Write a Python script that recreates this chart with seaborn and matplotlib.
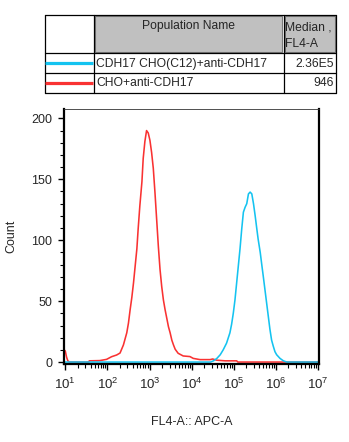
import numpy as np
import pandas as pd
import matplotlib
matplotlib.use("Agg")
import matplotlib.pyplot as plt
from matplotlib.ticker import FixedLocator, FuncFormatter, NullFormatter, MultipleLocator
from matplotlib.patches import Rectangle
import seaborn as sns

# ---------------- data ----------------
pop_blue = "CDH17 CHO(C12)+anti-CDH17"
pop_red = "CHO+anti-CDH17"
medians = {pop_blue: "2.36E5", pop_red: "946"}
header_pop = "Population Name"
header_med = ["Median ,", "FL4-A"]
decades = [1, 2, 3, 4, 5, 6, 7]

# log10 of FL4-A intensity and counts
red_log = [0.975, 1.0, 1.03, 1.06, 1.10, 1.55, 1.57, 1.82, 1.98, 2.10,
           2.22, 2.30, 2.38, 2.46, 2.50, 2.54, 2.58, 2.62, 2.66, 2.70,
           2.73, 2.77, 2.82, 2.85, 2.89, 2.93, 2.97, 3.01, 3.05, 3.09,
           3.13, 3.17, 3.21, 3.25, 3.29, 3.33, 3.37, 3.41, 3.45, 3.49,
           3.53, 3.57, 3.61, 3.68, 3.80, 3.96, 4.04, 4.20, 4.44, 4.50,
           4.60, 4.80, 5.07, 5.10, 7.02]
red_count = [10, 9, 4, 1, 0, 0, 1, 1.2, 2.2, 4.4,
             5.8, 7.4, 14, 24, 32, 43, 53, 65, 79, 93,
             109, 128, 148, 167, 181, 190, 188, 182, 172, 159,
             139, 117, 95, 76, 62, 51, 43, 36, 29, 24,
             18, 14, 10.5, 7.2, 5, 4.5, 3, 2, 2, 2.5,
             1.5, 1, 1, 0, 0]

blue_log = [0.975, 4.45, 4.52, 4.60, 4.68, 4.75, 4.83, 4.91, 4.95, 4.99,
            5.03, 5.07, 5.11, 5.15, 5.19, 5.23, 5.27, 5.31, 5.35, 5.39,
            5.43, 5.47, 5.51, 5.55, 5.58, 5.63, 5.67, 5.70, 5.74, 5.78,
            5.82, 5.86, 5.90, 5.94, 5.98, 6.02, 6.10, 6.18, 6.26, 7.02]
blue_count = [0, 0, 1, 3, 6, 10, 15.5, 24, 31, 40,
              51, 65, 79, 93, 109, 123, 127, 130, 138, 139.5,
              138, 130, 120, 109, 101, 90, 79, 71, 60, 49,
              38, 27, 18, 13, 8.5, 6, 3, 1, 0, 0]

colors = {pop_red: "#F93232", pop_blue: "#14C3F0"}

# ---------------- style ----------------
sns.set_style("white")
plt.rcParams["font.family"] = ["Liberation Sans", "DejaVu Sans"]
plt.rcParams["mathtext.fontset"] = "custom"
plt.rcParams["mathtext.rm"] = "Liberation Sans"
plt.rcParams["mathtext.it"] = "Liberation Sans:italic"
plt.rcParams["mathtext.bf"] = "Liberation Sans:bold"
plt.rcParams["mathtext.default"] = "regular"

W, H = 349, 442
fig = plt.figure(figsize=(W / 100, H / 100), dpi=100)

df = pd.concat([
    pd.DataFrame({"FL4": 10 ** np.array(red_log), "Count": red_count, "pop": pop_red}),
    pd.DataFrame({"FL4": 10 ** np.array(blue_log), "Count": blue_count, "pop": pop_blue}),
], ignore_index=True)

# ---------------- histogram axes ----------------
L, R, T, B = 64, 319, 109, 364
ax = fig.add_axes([L / W, 1 - B / H, (R - L) / W, (B - T) / H])
ax.set_xscale("log")
sns.lineplot(data=df, x="FL4", y="Count", hue="pop", hue_order=[pop_red, pop_blue],
             palette=colors, estimator=None, sort=False, lw=1.15, legend=False, ax=ax)

ax.set_xlim(10 ** 0.969, 10 ** 7.026)
ax.set_ylim(-1.6, 207.7)
major = [10.0 ** d for d in decades]
minor = [k * 10.0 ** d for d in decades[:-1] for k in range(2, 10)]
ax.xaxis.set_major_locator(FixedLocator(major))
ax.xaxis.set_minor_locator(FixedLocator(minor))
ax.xaxis.set_major_formatter(FuncFormatter(lambda v, p: "$10^{%d}$" % int(round(np.log10(v)))))
ax.xaxis.set_minor_formatter(NullFormatter())
ax.yaxis.set_major_locator(MultipleLocator(50))
ax.yaxis.set_minor_locator(MultipleLocator(10))

ax.tick_params(axis="both", which="major", direction="out", length=4.5, width=1.0,
               labelsize=9, color="black", left=True, bottom=True, top=False, right=False)
ax.tick_params(axis="both", which="minor", direction="out", length=3, width=0.8,
               color="black", left=True, bottom=True, top=False, right=False)
ax.tick_params(axis="x", which="major", labelsize=9.5, pad=4.5)
ax.tick_params(axis="y", which="major", pad=4)

for s in ["left", "bottom", "right"]:
    ax.spines[s].set_visible(True)
    ax.spines[s].set_linewidth(1.6)
    ax.spines[s].set_color("black")
ax.spines["top"].set_linewidth(0.6)
ax.spines["top"].set_color("#333333")

ax.set_xlabel("FL4-A:: APC-A", fontsize=9)
ax.set_ylabel("Count", fontsize=9)
ax.xaxis.set_label_coords(0.5, -(416 - B) / (B - T))
ax.yaxis.set_label_coords(-(64 - 17) / (R - L), 0.5)

# ---------------- table (legend) ----------------
tab = fig.add_axes([0, 0, 1, 1])
tab.set_xlim(0, W)
tab.set_ylim(H, 0)
tab.axis("off")

x0, x1, x2, x3 = 44.5, 93.5, 283.5, 336
y0, y1, y2, y3 = 14.5, 53.3, 73.0, 92.8
lw_t = 0.9
for yy in [y0, y1, y2, y3]:
    tab.plot([x0, x3], [yy, yy], color="black", lw=lw_t)
for xx in [x0, x1, x2, x3]:
    tab.plot([xx, xx], [y0, y3], color="black", lw=lw_t)

tab.add_patch(Rectangle((x1 + 1.5, y0 + 1.5), x2 - x1 - 3, y1 - y0 - 3,
                        facecolor="#C0C0C0", edgecolor="#7A7A7A", lw=0.8))
tab.add_patch(Rectangle((x2 + 1.5, y0 + 1.5), x3 - x2 - 3, y1 - y0 - 3,
                        facecolor="#C0C0C0", edgecolor="#7A7A7A", lw=0.8))

fs = 8.7
tab.text((x1 + x2) / 2, 26.5, header_pop, ha="center", va="center", fontsize=fs)
tab.text(x2 + 1.5, 27.5, header_med[0], ha="left", va="center", fontsize=fs)
tab.text(x2 + 1.5, 44, header_med[1], ha="left", va="center", fontsize=fs)

rows = [(pop_blue, (y1 + y2) / 2), (pop_red, (y2 + y3) / 2)]
for pop, yc in rows:
    tab.plot([x0 + 0.5, x1 - 0.5], [yc, yc], color=colors[pop], lw=2.3, solid_capstyle="butt")
    tab.text(x1 + 2.5, yc + 0.5, pop, ha="left", va="center", fontsize=fs)
    tab.text(x3 - 2.5, yc + 0.5, medians[pop], ha="right", va="center", fontsize=fs)

fig.savefig("out.png", dpi=100)
